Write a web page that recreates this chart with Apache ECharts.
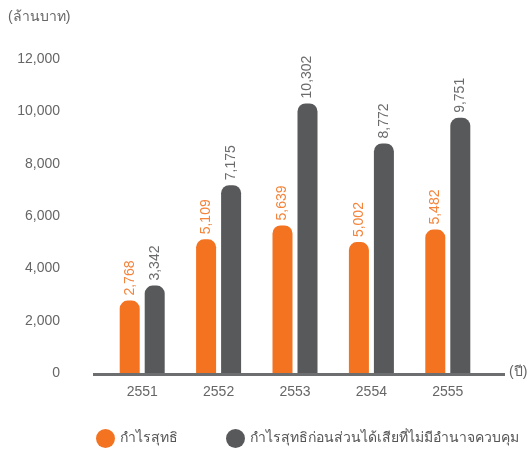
<!DOCTYPE html>
<html>
<head>
<meta charset="utf-8">
<script src="https://cdn.jsdelivr.net/npm/echarts@6/dist/echarts.min.js"></script>
<style>
  html, body { margin: 0; padding: 0; background: #fff; }
  #main { width: 530px; height: 452px; }
</style>
</head>
<body>
<div id="main"></div>
<script>
// ข้อมูลกราฟ (ล้านบาท)
const years = ['2551', '2552', '2553', '2554', '2555']
const netProfit = [2768, 5109, 5639, 5002, 5482]
const profitBeforeMinority = [3342, 7175, 10302, 8772, 9751]
const yTicks = [0, 2000, 4000, 6000, 8000, 10000, 12000]

const ORANGE = '#f37321'
const GRAY = '#58595b'
const FONT = '"Liberation Sans", Arial, sans-serif'

const chart = echarts.init(document.getElementById('main'))

const barLabel = (color) => ({
  show: true,
  position: 'top',
  rotate: 90,
  align: 'left',
  verticalAlign: 'middle',
  distance: 5,
  color: color,
  fontSize: 14,
  fontFamily: FONT,
  formatter: (p) => p.value.toLocaleString('en-US')
})

const option = {
  animation: false,
  textStyle: { fontFamily: FONT },
  grid: { left: 104, right: 44, top: 59, bottom: 79 },
  legend: {
    left: 91,
    top: 424,
    icon: 'circle',
    itemWidth: 19,
    itemHeight: 19,
    itemGap: 48,
    textStyle: { color: '#555', fontSize: 14, fontFamily: FONT },
    data: ['กำไรสุทธิ', 'กำไรสุทธิก่อนส่วนได้เสียที่ไม่มีอำนาจควบคุม']
  },
  xAxis: {
    type: 'category',
    data: years,
    axisLine: { show: false },
    axisTick: { show: false },
    axisLabel: { color: '#666', fontSize: 14, margin: 12, fontFamily: FONT }
  },
  yAxis: {
    type: 'value',
    min: yTicks[0],
    max: yTicks[yTicks.length - 1],
    interval: 2000,
    splitLine: { show: false },
    axisLine: { show: false },
    axisTick: { show: false },
    axisLabel: {
      color: '#666',
      fontSize: 14,
      margin: 44,
      fontFamily: FONT,
      formatter: (v) => v.toLocaleString('en-US')
    }
  },
  series: [
    {
      name: 'กำไรสุทธิ',
      type: 'bar',
      data: netProfit,
      barWidth: 20,
      barGap: '25%',
      itemStyle: { color: ORANGE, borderRadius: [8, 8, 0, 0] },
      label: barLabel('#f4843c')
    },
    {
      name: 'กำไรสุทธิก่อนส่วนได้เสียที่ไม่มีอำนาจควบคุม',
      type: 'bar',
      data: profitBeforeMinority,
      barWidth: 20,
      itemStyle: { color: GRAY, borderRadius: [8, 8, 0, 0] },
      label: barLabel('#6a6b6d')
    }
  ],
  graphic: [
    {
      type: 'rect',
      shape: { x: 93, y: 373, width: 412, height: 3 },
      style: { fill: '#6d6e70' },
      z: 10
    },
    {
      type: 'text',
      left: 8,
      top: 10,
      style: { text: '(ล้านบาท)', fill: '#666', font: '14px ' + FONT }
    },
    {
      type: 'text',
      left: 509,
      top: 365,
      style: { text: '(ปี)', fill: '#666', font: '14px ' + FONT }
    }
  ]
}

chart.setOption(option)
</script>
</body>
</html>
